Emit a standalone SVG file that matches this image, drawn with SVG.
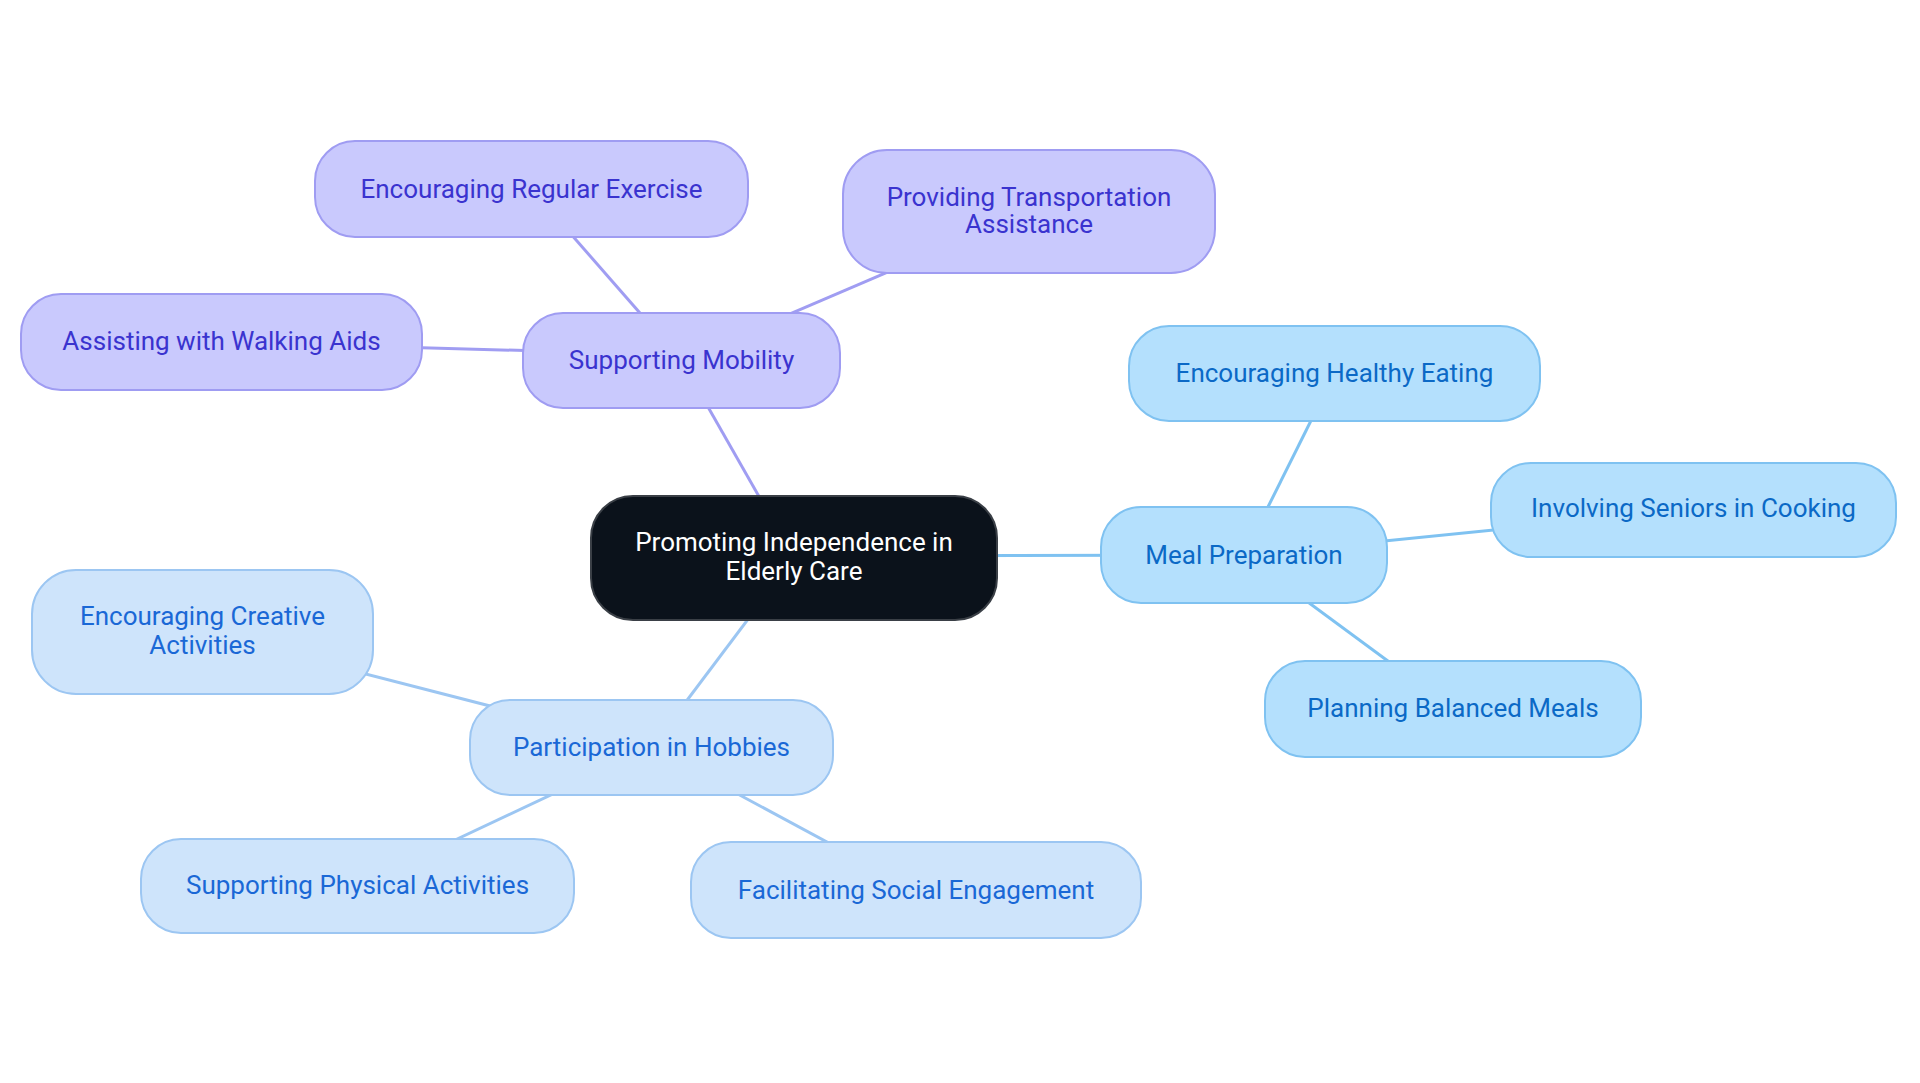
<svg xmlns="http://www.w3.org/2000/svg" width="1920" height="1083" viewBox="0 0 1920 1083">
<style>
text{font-family:Roboto,"Liberation Sans",sans-serif;font-size:26px;font-weight:400;text-anchor:middle;dominant-baseline:central}
.p rect{fill:#C9C9FD;stroke:#9F9CF2;stroke-width:2}
.p text{fill:#3A33CF}
.b rect{fill:#B4E0FD;stroke:#7FC2F1;stroke-width:2}
.b text{fill:#0B69C6}
.l rect{fill:#CEE4FB;stroke:#9CC6F2;stroke-width:2}
.l text{fill:#1A68D6}
.c rect{fill:#0B121B;stroke:#3a3f46;stroke-width:2}
.c text{fill:#FFFFFF}
#edges line{stroke-width:3;fill:none}
.ep{stroke:#A09DF2}.eb{stroke:#7FC2F1}.el{stroke:#9CC6F2}
</style>
<rect width="1920" height="1083" fill="#FFFFFF"/>
<g id="edges">
<line class="ep" x1="794" y1="558" x2="681.5" y2="360.5"/>
<line class="ep" x1="681.5" y1="360.5" x2="531.5" y2="189"/>
<line class="ep" x1="681.5" y1="360.5" x2="1029" y2="211.5"/>
<line class="ep" x1="681.5" y1="355" x2="221.5" y2="342"/>
<line class="eb" x1="794" y1="556" x2="1244" y2="555"/>
<line class="eb" x1="1244" y1="555" x2="1334.5" y2="373.5"/>
<line class="eb" x1="1244" y1="555" x2="1693.5" y2="510"/>
<line class="eb" x1="1244" y1="555" x2="1453" y2="709"/>
<line class="el" x1="794" y1="558" x2="651.5" y2="747.5"/>
<line class="el" x1="651.5" y1="747.5" x2="202.5" y2="632"/>
<line class="el" x1="651.5" y1="747.5" x2="357.5" y2="886"/>
<line class="el" x1="651.5" y1="747.5" x2="916" y2="890"/>
</g>
<g id="center" class="c"><rect x="591" y="496" width="406" height="124" rx="42"/><text x="794" y="542">Promoting Independence in</text><text x="794" y="571">Elderly Care</text></g>
<g id="supporting-mobility" class="p"><rect x="523" y="313" width="317" height="95" rx="40"/><text x="681.5" y="360">Supporting Mobility</text></g>
<g id="regular-exercise" class="p"><rect x="315" y="141" width="433" height="96" rx="40"/><text x="531.5" y="189">Encouraging Regular Exercise</text></g>
<g id="transportation" class="p"><rect x="843" y="150" width="372" height="123" rx="44"/><text x="1029" y="197">Providing Transportation</text><text x="1029" y="224">Assistance</text></g>
<g id="walking-aids" class="p"><rect x="21" y="294" width="401" height="96" rx="40"/><text x="221.5" y="341">Assisting with Walking Aids</text></g>
<g id="meal-preparation" class="b"><rect x="1101" y="507" width="286" height="96" rx="40"/><text x="1244" y="555">Meal Preparation</text></g>
<g id="healthy-eating" class="b"><rect x="1129" y="326" width="411" height="95" rx="40"/><text x="1334.5" y="373">Encouraging Healthy Eating</text></g>
<g id="seniors-cooking" class="b"><rect x="1491" y="463" width="405" height="94" rx="40"/><text x="1693.5" y="508">Involving Seniors in Cooking</text></g>
<g id="balanced-meals" class="b"><rect x="1265" y="661" width="376" height="96" rx="40"/><text x="1453" y="708">Planning Balanced Meals</text></g>
<g id="hobbies" class="l"><rect x="470" y="700" width="363" height="95" rx="40"/><text x="651.5" y="747">Participation in Hobbies</text></g>
<g id="creative-activities" class="l"><rect x="32" y="570" width="341" height="124" rx="44"/><text x="202.5" y="616">Encouraging Creative</text><text x="202.5" y="645">Activities</text></g>
<g id="physical-activities" class="l"><rect x="141" y="839" width="433" height="94" rx="40"/><text x="357.5" y="885">Supporting Physical Activities</text></g>
<g id="social-engagement" class="l"><rect x="691" y="842" width="450" height="96" rx="40"/><text x="916" y="890">Facilitating Social Engagement</text></g>
</svg>
